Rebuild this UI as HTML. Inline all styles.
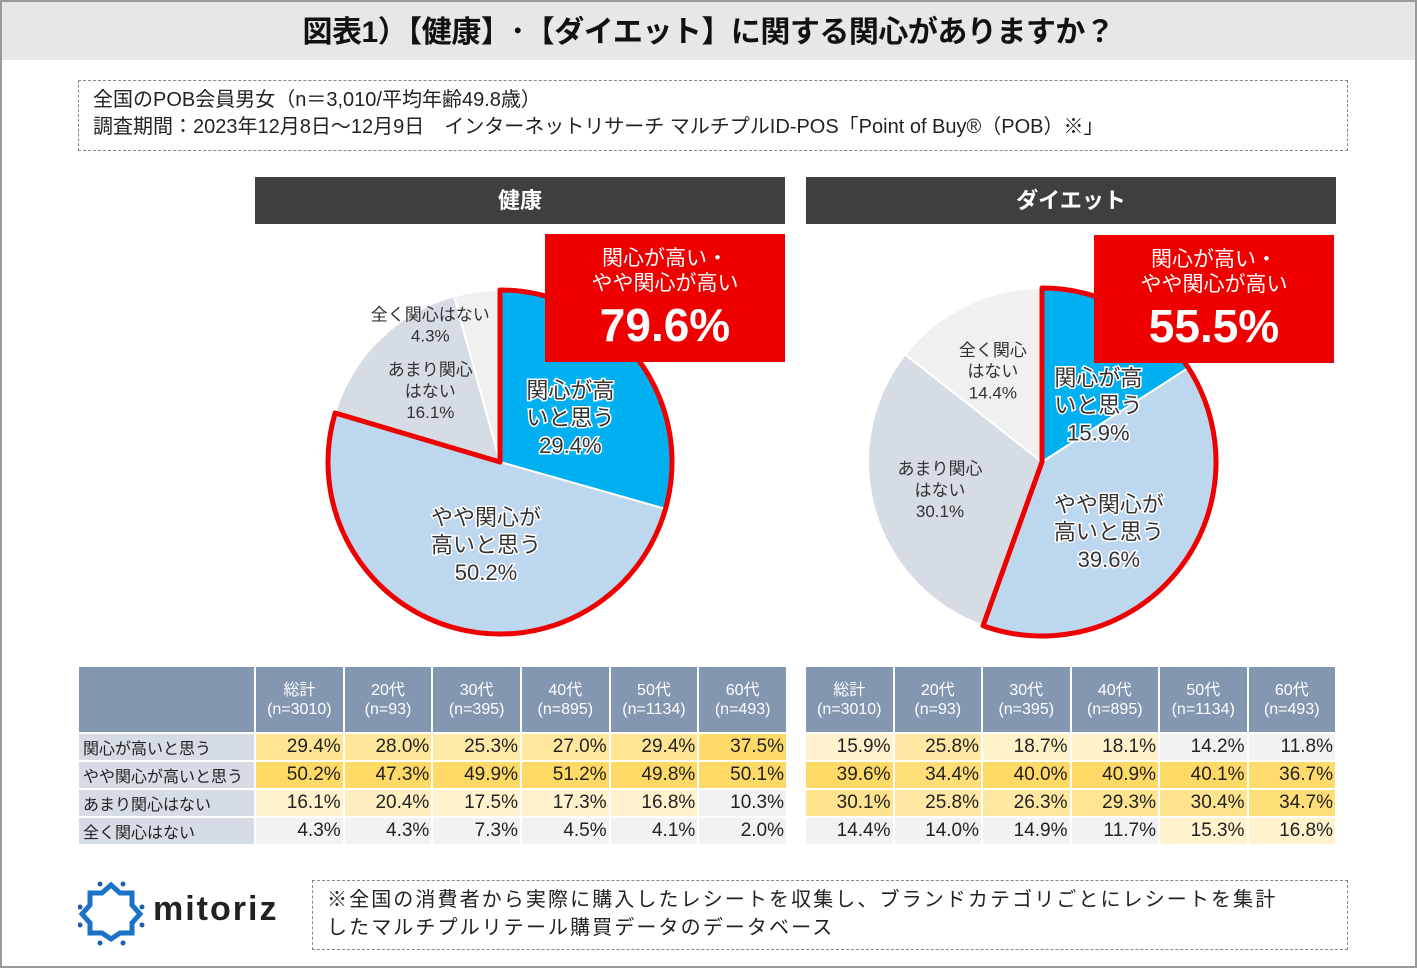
<!DOCTYPE html>
<html><head><meta charset="utf-8">
<style>
*{box-sizing:border-box;margin:0;padding:0}
body{width:1417px;height:968px;background:#fff;position:relative;overflow:hidden;font-family:"Liberation Sans","Noto Sans CJK JP",sans-serif;color:#222}
.abs{position:absolute}
#frame{left:0;top:0;width:1417px;height:968px;border:2px solid #9a9a9a}
#title{left:2px;top:2px;width:1413px;height:58px;background:#e7e7e7;text-align:center;font-size:30px;font-weight:bold;line-height:62px;color:#111;letter-spacing:-0.5px}
.dash{border:1.5px dashed #888}
.hdr{background:#3f3f3f;color:#fff;font-weight:bold;font-size:22px;text-align:center;line-height:47px;height:47px;width:530px}
.redbox{background:#ee0000;color:#fff;text-align:center;width:240px;height:128px}
.redbox .s{font-size:21px;line-height:25px;padding-top:12px}
.redbox .b{font-size:46px;font-weight:bold;line-height:58px}
table{position:absolute;border-collapse:collapse;font-size:19px;table-layout:fixed}
td{border:2px solid #fff;height:28px;padding:0 2px;text-align:right;white-space:nowrap;overflow:hidden}
td.l{text-align:left;background:#d6dce4;font-size:16px;padding-left:4px}
th{background:#8497b0;color:#fff;font-size:16px;line-height:19px;height:67px;border:2px solid #fff;font-weight:normal;white-space:nowrap;overflow:hidden}
svg text{font-family:"Liberation Sans","Noto Sans CJK JP",sans-serif}
</style></head><body>
<div id="frame" class="abs"></div>
<div id="title" class="abs">図表1）【健康】･【ダイエット】に関する関心がありますか？</div>
<div class="abs dash" style="left:78px;top:80px;width:1270px;height:71px;font-size:20px;line-height:27px;padding:6px 14px">全国のPOB会員男女（n＝3,010/平均年齢49.8歳）<br>調査期間：2023年12月8日～12月9日　インターネットリサーチ マルチプルID-POS「Point of Buy®（POB）※」</div>
<div class="abs hdr" style="left:255px;top:177px">健康</div>
<div class="abs hdr" style="left:806px;top:177px">ダイエット</div>
<svg id="pies" class="abs" style="left:0;top:0" width="1417" height="968"></svg>
<div class="abs redbox" style="left:545px;top:234px"><div class="s">関心が高い・<br>やや関心が高い</div><div class="b">79.6%</div></div>
<div class="abs redbox" style="left:1094px;top:235px"><div class="s">関心が高い・<br>やや関心が高い</div><div class="b">55.5%</div></div>
<table id="t1" style="left:77px;top:665px;width:711px"></table>
<table id="t2" style="left:804px;top:665px;width:533px"></table>
<div class="abs" style="left:78px;top:880px;width:220px;height:66px">
<svg width="70" height="66" style="position:absolute;left:0;top:0">
<polygon points="33,10 42,18 54,18 54,30 62,39 54,48 54,58 42,58 33,64 24,58 12,58 12,48 4,39 12,30 12,18 24,18" fill="none" stroke="#1a73c8" stroke-width="5" transform="translate(0,-5)"/>
<g fill="#1a5fa8"><circle cx="22" cy="4" r="2.5"/><circle cx="45" cy="4" r="2.5"/><circle cx="2" cy="27" r="2.5"/><circle cx="64" cy="27" r="2.5"/><circle cx="2" cy="45" r="2.5"/><circle cx="64" cy="45" r="2.5"/><circle cx="22" cy="63" r="2.5"/><circle cx="45" cy="63" r="2.5"/></g></svg>
<div style="position:absolute;left:75px;top:10px;font-size:34px;font-weight:bold;letter-spacing:2px;color:#222">mitoriz</div></div>
<div class="abs dash" style="left:312px;top:880px;width:1036px;height:70px;font-size:20px;line-height:28px;padding:5px 14px;letter-spacing:2.1px">※全国の消費者から実際に購入したレシートを収集し、ブランドカテゴリごとにレシートを集計<br>したマルチプルリテール購買データのデータベース</div>
<script>
const healthValues=[29.4,50.2,16.1,4.3];
const dietValues=[15.9,39.6,30.1,14.4];
const sliceColors=['#00b0f0','#bdd7ee','#d6dce4','#f0f0f0'];
const healthLabels=[['関心が高','いと思う','29.4%'],['やや関心が','高いと思う','50.2%'],['あまり関心','はない','16.1%'],['全く関心はない','4.3%']];
const dietLabels=[['関心が高','いと思う','15.9%'],['やや関心が','高いと思う','39.6%'],['あまり関心','はない','30.1%'],['全く関心','はない','14.4%']];
const cols=['総計','20代','30代','40代','50代','60代'];
const ns=['(n=3010)','(n=93)','(n=395)','(n=895)','(n=1134)','(n=493)'];
const rowNames=['関心が高いと思う','やや関心が高いと思う','あまり関心はない','全く関心はない'];
const healthTable=[[29.4,28.0,25.3,27.0,29.4,37.5],[50.2,47.3,49.9,51.2,49.8,50.1],[16.1,20.4,17.5,17.3,16.8,10.3],[4.3,4.3,7.3,4.5,4.1,2.0]];
const dietTable=[[15.9,25.8,18.7,18.1,14.2,11.8],[39.6,34.4,40.0,40.9,40.1,36.7],[30.1,25.8,26.3,29.3,30.4,34.7],[14.4,14.0,14.9,11.7,15.3,16.8]];
const svg=document.getElementById('pies');const NS='http://www.w3.org/2000/svg';
function pt(cx,cy,r,f){const a=f*2*Math.PI-Math.PI/2;return[cx+r*Math.cos(a),cy+r*Math.sin(a)];}
function arc(cx,cy,r,f0,f1){const p0=pt(cx,cy,r,f0),p1=pt(cx,cy,r,f1);return `M${cx},${cy}L${p0[0]},${p0[1]}A${r},${r} 0 ${f1-f0>0.5?1:0} 1 ${p1[0]},${p1[1]}Z`;}
function pie(vals,labels,cx,cy,r,hi,labR,labDx,names){
 const tot=vals.reduce((a,b)=>a+b,0);let c=0;const texts=[];
 vals.forEach((v,i)=>{const p=document.createElementNS(NS,'path');
  p.setAttribute('d',arc(cx,cy,r,c/tot,(c+v)/tot));p.setAttribute('fill',sliceColors[i]);p.setAttribute('stroke','#fff');p.setAttribute('stroke-width','2');
  
  
  svg.appendChild(p);
  const mid=(c+v/2)/tot;const lp=pt(cx,cy,r*labR[i],mid);lp[0]+=labDx[i][0];lp[1]+=labDx[i][1];
  const t=document.createElementNS(NS,'text');t.setAttribute('text-anchor','middle');
  const big=i<2;const fs=big?22:17;
  t.setAttribute('font-size',fs);t.setAttribute('fill','#333');
  if(big){t.setAttribute('stroke','#fff');t.setAttribute('stroke-width','3');t.setAttribute('paint-order','stroke');}
  
  
  const ln=labels[i];ln.forEach((s,k)=>{const ts=document.createElementNS(NS,'tspan');ts.setAttribute('x',lp[0]);ts.setAttribute('y',lp[1]+(k-(ln.length-1)/2)*fs*1.25+fs*0.35);ts.textContent=s;t.appendChild(ts);});
  texts.push(t);c+=v;});
 const hv=vals.slice(0,hi).reduce((a,b)=>a+b,0);
 const o=document.createElementNS(NS,'path');o.setAttribute('d',arc(cx,cy,r,0,hv/tot));o.setAttribute('fill','none');o.setAttribute('stroke','#e00');o.setAttribute('stroke-width','5');o.setAttribute('stroke-linejoin','round');
 
 
 svg.appendChild(o);
 texts.forEach(t=>svg.appendChild(t));}
pie(healthValues,healthLabels,500,462,172,2,[0.6,0.5,0.62,0.85],[[-12,18],[10,0],[5,5],[-50,8]],'health');
pie(dietValues,dietLabels,1042,462,174,2,[0.58,0.55,0.58,0.58],[[8,32],[-8,10],[-5,0],[-5,0]],'diet');
function mix(a,b,t){return a.map((x,i)=>Math.round(x+(b[i]-x)*t));}
function color(v){const g=[242,242,242],c=[255,242,204],y=[255,217,102];let rgb;
 if(v<15)rgb=g;else if(v<18)rgb=c;else{const t=Math.min(1,(v-18)/20);rgb=mix(c,y,t);}
 return 'rgb('+rgb.join(',')+')';}
function table(id,data,withLabel){const t=document.getElementById(id);let h='<colgroup>'+(withLabel?'<col style="width:177px">':'');
 cols.forEach(()=>{h+='<col>';});h+='</colgroup><tr>'+(withLabel?'<th></th>':'');
 cols.forEach((c,i)=>{h+='<th>'+c+'<br>'+ns[i]+'</th>';});h+='</tr>';
 data.forEach((row,r)=>{h+='<tr>'+(withLabel?'<td class="l">'+rowNames[r]+'</td>':'');row.forEach(v=>{h+='<td style="background:'+color(v)+'">'+v.toFixed(1)+'%</td>';});h+='</tr>';});
 t.innerHTML=h;}
table('t1',healthTable,true);table('t2',dietTable,false);
</script>
</body></html>
